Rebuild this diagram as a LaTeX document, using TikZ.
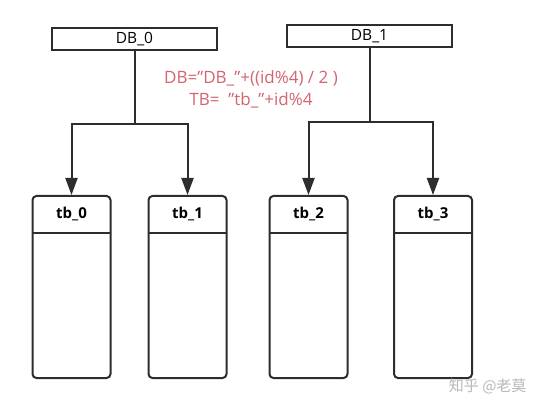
\documentclass[tikz,border=0pt]{standalone}
\usepackage{fontspec}
\setmainfont{Open Sans}
\newfontfamily\cjk{Noto Sans CJK SC}
\usetikzlibrary{arrows.meta,positioning}
\definecolor{formula}{RGB}{212,100,112}
\definecolor{lineg}{RGB}{45,45,45}
\begin{document}
\begin{tikzpicture}[x=1pt,y=-1pt,
  dbbox/.style={draw=lineg,line width=2pt,minimum width=165pt,minimum height=22pt,inner sep=0pt,font=\fontsize{15.5}{17}\selectfont},
  tbhead/.style={minimum width=78pt,minimum height=38pt,inner sep=0pt,font=\bfseries\fontsize{15}{17}\selectfont},
  tbbody/.style={draw=lineg,line width=2pt,rounded corners=4pt,minimum width=78pt,minimum height=182pt,inner sep=0pt},
  conn/.style={draw=lineg,line width=2pt},
  arr/.style={conn,-{Triangle[length=17pt,width=12pt]}}]
\useasboundingbox[fill=white] (0,0) rectangle (549,403);
% DB boxes
\node[dbbox] (db0) at (134.5,39) {DB\_0};
\node[dbbox] (db1) at (369.5,36) {DB\_1};
% table boxes
\foreach \n/\x in {0/71.5,1/187.5,2/308.5,3/433}{
  \node[tbbody,anchor=north] (b\n) at (\x,195) {};
  \node[tbhead,anchor=north] (t\n) at (\x,195) {tb\_\n};
  \draw[conn] (t\n.south west) -- (t\n.south east);
}
% split points
\coordinate (s0) at (db0.south |- 0,124);
\coordinate (s1) at (db1.south |- 0,122);
\draw[conn] (db0.south) -- (s0);
\draw[conn] (db1.south) -- (s1);
\draw[arr] (s0) -| (t0.north);
\draw[arr] (s0) -| (t1.north);
\draw[arr] (s1) -| (t2.north);
\draw[arr] (s1) -| (t3.north);
% formula
\node[text=formula,font=\fontsize{17}{22}\selectfont,align=center] (f) at (251,89) {DB="DB\_"+((id\%4) / 2 )\\TB=\ \ "tb\_"+id\%4};
% watermark
\node[text=black!28,font=\cjk\fontsize{15}{17}\selectfont,anchor=east] (wm) at (530,386) {知乎 @老莫};
\end{tikzpicture}
\end{document}
